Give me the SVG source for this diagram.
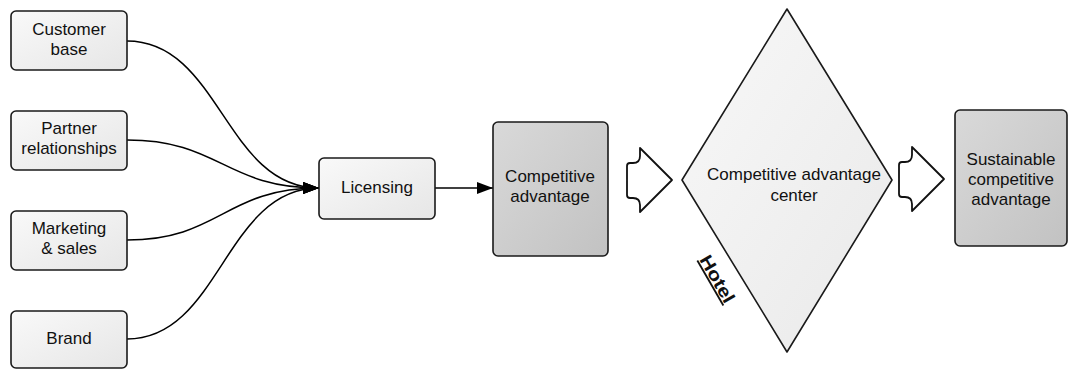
<svg xmlns="http://www.w3.org/2000/svg" width="1070" height="369" viewBox="0 0 1070 369">
  <defs>
    <linearGradient id="gLight" x1="0" y1="0" x2="1" y2="1">
      <stop offset="0" stop-color="#f9f9f9"/>
      <stop offset="1" stop-color="#e6e6e6"/>
    </linearGradient>
    <linearGradient id="gDark" x1="0" y1="0" x2="1" y2="1">
      <stop offset="0" stop-color="#d9d9d9"/>
      <stop offset="1" stop-color="#c2c2c2"/>
    </linearGradient>
    <linearGradient id="gDiamond" x1="0" y1="0" x2="1" y2="1">
      <stop offset="0" stop-color="#f8f8f8"/>
      <stop offset="1" stop-color="#e9e9e9"/>
    </linearGradient>
    <marker id="arrow" viewBox="0 0 16 12" refX="16" refY="6" markerWidth="16" markerHeight="12" markerUnits="userSpaceOnUse" orient="auto">
      <path d="M0,0 L16,6 L0,12 Z" fill="#000"/>
    </marker>
    <path id="blockArrow" d="M640,148 L672,180 L640,212 L640,205 Q640,198 633,198 L630,198 Q627,198 627,195 L627,166 Q627,163 630,163 L633,163 Q640,163 640,156 Z"/>
  </defs>
  <style>
    .box { stroke: #1a1a1a; stroke-width: 1.6; }
    .light { fill: url(#gLight); }
    .dark { fill: url(#gDark); }
    .label { font-family: "Liberation Sans", Arial, sans-serif; font-size: 17px; fill: #111; text-anchor: middle; }
    .conn { fill: none; stroke: #000; stroke-width: 1.5; }
    .block { fill: #fff; stroke: #111; stroke-width: 1.8; stroke-linejoin: round; }
  </style>

  <!-- connectors -->
  <g id="connectors">
    <path class="conn" d="M127,41 C220,41 225,188 319,188" marker-end="url(#arrow)"/>
    <path class="conn" d="M127,140 C220,140 225,188 319,188" marker-end="url(#arrow)"/>
    <path class="conn" d="M127,240 C220,240 225,188 319,188" marker-end="url(#arrow)"/>
    <path class="conn" d="M127,339 C220,339 225,188 319,188" marker-end="url(#arrow)"/>
    <path class="conn" d="M435,188 L493,188" marker-end="url(#arrow)"/>
    <use href="#blockArrow" class="block"/>
    <use href="#blockArrow" class="block" transform="translate(272,-1)"/>
  </g>

  <g id="customer-base">
    <rect class="box light" x="11" y="11" width="116" height="59" rx="5"/>
    <text class="label" x="69" y="35">Customer</text>
    <text class="label" x="69" y="55">base</text>
  </g>
  <g id="partner-relationships">
    <rect class="box light" x="11" y="111" width="116" height="59" rx="5"/>
    <text class="label" x="69" y="134">Partner</text>
    <text class="label" x="69" y="154">relationships</text>
  </g>
  <g id="marketing-sales">
    <rect class="box light" x="11" y="211" width="116" height="59" rx="5"/>
    <text class="label" x="69" y="234">Marketing</text>
    <text class="label" x="69" y="254">&amp; sales</text>
  </g>
  <g id="brand">
    <rect class="box light" x="11" y="311" width="116" height="57" rx="5"/>
    <text class="label" x="69" y="344">Brand</text>
  </g>
  <g id="licensing">
    <rect class="box light" x="319" y="158" width="116" height="61" rx="5"/>
    <text class="label" x="377" y="193">Licensing</text>
  </g>
  <g id="competitive-advantage">
    <rect class="box dark" x="493" y="122" width="115" height="134" rx="5"/>
    <text class="label" x="550" y="182">Competitive</text>
    <text class="label" x="550" y="202">advantage</text>
  </g>
  <g id="competitive-advantage-center">
    <polygon class="box" fill="url(#gDiamond)" stroke-linejoin="round" points="787,9 892,180 787,352 682,180"/>
    <text class="label" x="794" y="180">Competitive advantage</text>
    <text class="label" x="794" y="201">center</text>
    <text transform="translate(712,282) rotate(60)" x="0" y="0" font-family="Liberation Sans, Arial, sans-serif" font-size="18" font-weight="bold" text-decoration="underline" text-anchor="middle" fill="#111" textLength="52" lengthAdjust="spacingAndGlyphs">Hotel</text>
  </g>
  <g id="sustainable-competitive-advantage">
    <rect class="box dark" x="955" y="110" width="112" height="136" rx="5"/>
    <text class="label" x="1011" y="165">Sustainable</text>
    <text class="label" x="1011" y="185">competitive</text>
    <text class="label" x="1011" y="205">advantage</text>
  </g>
</svg>
